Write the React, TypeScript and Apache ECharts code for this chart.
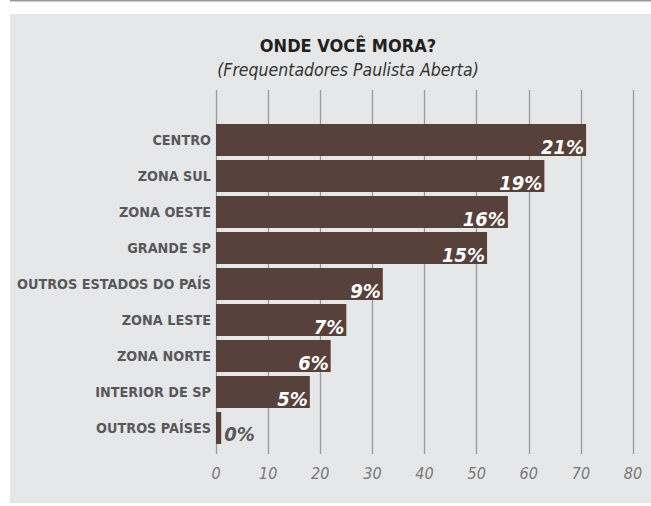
import React, { useEffect, useRef } from "react";
import * as echarts from "echarts";

const categories = [
  "CENTRO",
  "ZONA SUL",
  "ZONA OESTE",
  "GRANDE SP",
  "OUTROS ESTADOS DO PAÍS",
  "ZONA LESTE",
  "ZONA NORTE",
  "INTERIOR DE SP",
  "OUTROS PAÍSES",
];
const barValues = [71, 63, 56, 52, 32, 25, 22, 18, 1];
const percentLabels = ["21%", "19%", "16%", "15%", "9%", "7%", "6%", "5%", "0%"];
const axisMin = 0;
const axisMax = 80;
const axisStep = 10;

const NARROW = "'DejaVu Sans Condensed', 'Liberation Sans Narrow', sans-serif";

export default function App() {
  const ref = useRef<HTMLDivElement>(null);
  useEffect(() => {
    document.body.style.margin = "0";
    if (!ref.current) return;
    const chart = echarts.init(ref.current, undefined, { renderer: "svg" });
    const data = barValues.map((v) => {
      const outside = v < 5;
      return {
        value: v,
        label: outside
          ? { align: "left", offset: [3, 0], color: "#58585a" }
          : { align: "right", offset: [-2, 1], color: "#ffffff" },
      };
    });
    chart.setOption({
      animation: false,
      backgroundColor: "#ffffff",
      graphic: [
        {
          type: "rect",
          z: -10,
          silent: true,
          shape: { x: 10, y: 14, width: 641, height: 489 },
          style: { fill: "#e6e7e9" },
        },
        {
          type: "line",
          z: -10,
          silent: true,
          shape: { x1: 10, y1: 0.75, x2: 651, y2: 0.75 },
          style: { stroke: "#9a9a9a", lineWidth: 1.5 },
        },
      ],
      title: [
        {
          text: "ONDE VOCÊ MORA?",
          left: 343,
          top: 31,
          textAlign: "center",
          textStyle: {
            fontFamily: NARROW,
            fontWeight: "bold",
            fontSize: 18,
            color: "#231f20",
          },
        },
        {
          text: "(Frequentadores Paulista Aberta)",
          left: 343,
          top: 56,
          textAlign: "center",
          textStyle: {
            fontFamily: NARROW,
            fontStyle: "italic",
            fontWeight: "normal",
            fontSize: 17.5,
            color: "#333333",
          },
        },
      ],
      grid: [
        { left: 216, width: 417, top: 122, height: 324, outerBoundsMode: "none" },
        { left: 216, width: 417, top: 90, height: 364, outerBoundsMode: "none" },
      ],
      xAxis: [
        {
          gridIndex: 0,
          type: "value",
          min: axisMin,
          max: axisMax,
          interval: axisStep,
          show: false,
        },
        {
          gridIndex: 1,
          type: "value",
          min: axisMin,
          max: axisMax,
          interval: axisStep,
          axisLine: { show: false },
          axisTick: { show: false },
          splitLine: { show: true, lineStyle: { color: "#9a9a9a", width: 1.3 } },
          axisLabel: {
            margin: 11,
            fontFamily: NARROW,
            fontStyle: "italic",
            fontSize: 16,
            color: "#77777a",
          },
        },
      ],
      yAxis: [
        {
          gridIndex: 0,
          type: "category",
          data: categories,
          inverse: true,
          axisLine: { show: false },
          axisTick: { show: false },
          splitLine: { show: false },
          axisLabel: {
            margin: 5,
            fontFamily: NARROW,
            fontWeight: "bold",
            fontSize: 14.3,
            color: "#58585a",
          },
        },
        {
          gridIndex: 1,
          type: "value",
          show: false,
        },
      ],
      series: [
        {
          type: "bar",
          xAxisIndex: 0,
          yAxisIndex: 0,
          data,
          barWidth: 32,
          itemStyle: { color: "#58403b" },
          label: {
            show: true,
            position: ["100%", "100%"],
            verticalAlign: "bottom",
            fontFamily: NARROW,
            fontStyle: "italic",
            fontWeight: "bold",
            fontSize: 20,
            formatter: (p: any) => percentLabels[p.dataIndex],
          },
        },
      ],
    });
    return () => chart.dispose();
  }, []);
  return <div ref={ref} style={{ width: 651, height: 506 }} />;
}
